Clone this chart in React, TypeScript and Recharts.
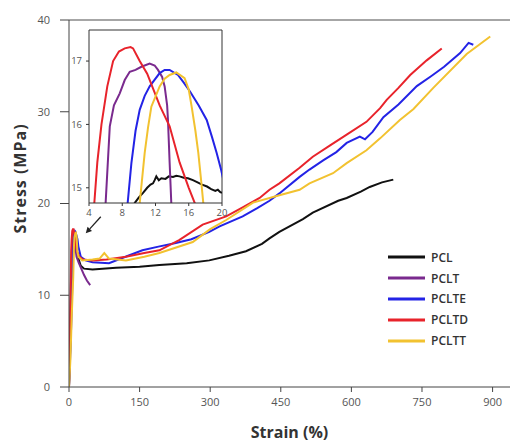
import React from 'react';
import { LineChart, Line, XAxis, YAxis, Legend, ReferenceLine } from 'recharts';

type P = { x: number; y: number };
const toPts = (a: number[][]): P[] => a.map(([x, y]) => ({ x, y }));

// ---- main chart data (strain %, stress MPa)
const pclRaw = [[0,0],[3,5],[6,12],[9,14.6],[12,15.3],[16,15.0],[20,14.0],[25,13.2],[32,12.9],[50,12.8],[100,13.0],[150,13.1],[192,13.3],[250,13.5],[298,13.8],[340,14.3],[376,14.8],[410,15.6],[426,16.2],[447,16.9],[497,18.3],[518,19.0],[572,20.3],[590,20.6],[620,21.3],[639,21.8],[665,22.3],[689,22.6]];
const pcltRaw = [[0,0],[2,6],[4,11],[6,14.8],[8,16.5],[11,16.95],[13,16.6],[14,15],[16,14.2],[21,13.5],[27,12.8],[32,12.2],[38,11.6],[45,11.1]];
const pclteRaw = [[0,0],[3,4],[6,9],[8,13.5],[9.1,15.4],[11.3,16.6],[13.7,16.86],[16,16.5],[18,16.1],[20,15.3],[25,14.2],[35,13.8],[50,13.6],[85,13.5],[120,14.2],[156,14.9],[190,15.3],[227,15.7],[260,16.1],[298,16.9],[320,17.5],[369,18.6],[400,19.5],[426,20.3],[447,21.1],[490,22.9],[511,23.7],[540,24.7],[568,25.6],[590,26.6],[618,27.3],[629,27.0],[645,27.8],[668,29.4],[700,30.8],[739,32.8],[770,33.9],[797,34.9],[831,36.4],[849,37.5],[859,37.3]];
const pcltdRaw = [[0,0],[1,3],[3,9],[4.6,14.76],[5.5,16],[6.9,17],[8.3,17.2],[9.3,17.2],[10.1,17.0],[12.5,16.3],[13.7,15.97],[14.9,15.4],[17.2,14.76],[22,14.2],[30,13.9],[50,13.8],[80,13.9],[121,14.2],[160,14.6],[192,14.9],[234,16.0],[284,17.7],[334,18.6],[370,19.6],[405,20.6],[426,21.5],[447,22.2],[490,23.9],[518,25.1],[554,26.3],[590,27.5],[632,28.9],[661,30.4],[675,31.3],[700,32.6],[725,34.0],[760,35.6],[792,36.9]];
const pclttRaw = [[0,0],[3,3],[6,8],[9,12],[10.7,15.55],[11.5,16.28],[13.7,16.78],[14.5,16.82],[16.35,16.28],[17.75,14.76],[20,14.2],[28,13.8],[50,13.9],[65,14.0],[75,14.6],[85,14.0],[121,13.8],[160,14.2],[192,14.6],[263,15.8],[300,17.2],[334,18.2],[391,20.1],[447,20.9],[490,21.5],[511,22.2],[561,23.3],[590,24.4],[632,25.8],[661,27.1],[703,29.1],[732,30.3],[774,32.6],[845,36.3],[895,38.2]];

const PCL = toPts(pclRaw);
const PCLT = toPts(pcltRaw);
const PCLTE = toPts(pclteRaw);
const PCLTD = toPts(pcltdRaw);
const PCLTT = toPts(pclttRaw);

// ---- inset data
const inRed = toPts([[4.0,13.5],[4.64,14.76],[5.0,15.4],[5.5,16.0],[6.2,16.6],[6.9,17.0],[7.6,17.15],[8.3,17.2],[9.0,17.22],[9.3,17.2],[10.1,17.0],[11.0,16.8],[12.5,16.3],[13.7,15.97],[14.9,15.4],[16.0,15.0],[17.2,14.6]]);
const inPurple = toPts([[5.8,14.4],[6.0,14.76],[6.5,15.97],[7.0,16.3],[7.7,16.49],[8.3,16.7],[8.9,16.83],[9.6,16.86],[10.3,16.91],[11.3,16.96],[11.9,16.93],[12.3,16.86],[12.8,16.75],[13.1,16.6],[13.4,16.3],[13.5,16.07],[13.7,15.4],[13.9,14.76],[14.0,14.4]]);
const inBlue = toPts([[8.5,14.5],[8.65,14.76],[9.1,15.39],[9.6,15.9],[10.1,16.23],[10.7,16.45],[11.3,16.6],[12.5,16.81],[13.1,16.86],[13.7,16.86],[14.7,16.78],[15.4,16.66],[16.15,16.52],[17.2,16.3],[18.16,16.07],[18.8,15.8],[19.36,15.55],[19.9,15.28],[20.2,15.1]]);
const inYellow = toPts([[9.9,14.4],[10.1,14.76],[10.7,15.55],[11.1,15.95],[11.5,16.28],[12.5,16.6],[13.1,16.72],[13.7,16.78],[14.5,16.82],[15.5,16.73],[16.0,16.55],[16.35,16.28],[16.8,15.9],[17.15,15.55],[17.5,15.1],[17.75,14.76],[17.9,14.5]]);
const inBlack = toPts([[9.2,14.6],[9.5,14.76],[10.0,14.85],[10.5,14.92],[11.0,15.0],[11.4,15.05],[11.7,15.07],[11.9,15.12],[12.1,15.18],[12.4,15.12],[12.7,15.15],[13.2,15.14],[13.6,15.18],[14.1,15.17],[14.5,15.19],[14.9,15.18],[15.4,15.16],[15.9,15.15],[16.5,15.12],[17.0,15.09],[17.6,15.05],[18.2,15.02],[18.7,14.98],[19.2,14.95],[19.5,14.97],[19.8,14.93],[20.0,14.92]]);

const xTicks = [0, 150, 300, 450, 600, 750, 900];
const xMinor = [75, 225, 375, 525, 675, 825];
const yTicks = [0, 10, 20, 30, 40];
const yMinor = [5, 15, 25, 35];
const inXTicks = [4, 8, 12, 16, 20];
const inYTicks = [15, 16, 17];
const seriesNames = ['PCL', 'PCLT', 'PCLTE', 'PCLTD', 'PCLTT'];

const arrowSeg = [{ x: 67.5, y: 18.56 }, { x: 35.6, y: 16.75 }];

const C: Record<string, string> = { PCL: '#111111', PCLT: '#7a2a8e', PCLTE: '#2323e6', PCLTD: '#e8232b', PCLTT: '#f2c230' };
const FONT = '"Open Sans", sans-serif';
const tickStyle = { fontSize: 11, fill: '#555', fontFamily: FONT };

const Arrow = (props: any) => {
  const { x1, y1, x2, y2 } = props;
  const ang = Math.atan2(y2 - y1, x2 - x1);
  const L = 6, W = 3;
  const bx = x2 - L * Math.cos(ang), by = y2 - L * Math.sin(ang);
  const px = -Math.sin(ang) * W, py = Math.cos(ang) * W;
  return (
    <g>
      <line x1={x1} y1={y1} x2={bx} y2={by} stroke="#222" strokeWidth={1.3} />
      <polygon points={`${x2},${y2} ${bx + px},${by + py} ${bx - px},${by - py}`} fill="#222" />
    </g>
  );
};

const LegendContent = () => (
  <div style={{ fontFamily: FONT }}>
    {seriesNames.map((name) => (
      <div key={name} style={{ display: 'flex', alignItems: 'center', height: 20.8 }}>
        <svg width={38} height={6}><line x1={0} y1={3} x2={37} y2={3} stroke={C[name]} strokeWidth={3} /></svg>
        <span style={{ marginLeft: 5, fontSize: 12, fontWeight: 600, color: '#333' }}>{name}</span>
      </div>
    ))}
  </div>
);

export default function App() {
  return (
    <div style={{ position: 'absolute', left: 0, top: 0, width: 510, height: 443, background: '#fff' }}>
      <LineChart width={510} height={443} margin={{ top: 20, right: 0, left: 0, bottom: 0 }}>
        <XAxis xAxisId="minor" type="number" dataKey="x" domain={[0, 937]} ticks={xMinor} tick={false} tickSize={3} height={0} axisLine={false} stroke="#444" allowDataOverflow />
        <XAxis xAxisId="main" type="number" dataKey="x" domain={[0, 937]} ticks={xTicks} tickSize={5} tickMargin={6} height={56} stroke="#444" tick={tickStyle} allowDataOverflow
          label={{ value: 'Strain (%)', position: 'insideBottom', offset: 5, style: { fontSize: 16, fontWeight: 700, fill: '#333', fontFamily: FONT } }} />
        <YAxis yAxisId="minor" type="number" domain={[0, 40]} ticks={yMinor} tick={false} tickSize={3} width={0} axisLine={false} stroke="#444" />
        <YAxis yAxisId="main" type="number" domain={[0, 40]} ticks={yTicks} tickSize={9} tickMargin={10} width={69} stroke="#444" tick={tickStyle}
          label={{ value: 'Stress (MPa)', angle: -90, position: 'center', dx: -14, dy: -25, style: { fontSize: 16, fontWeight: 700, fill: '#333', fontFamily: FONT, letterSpacing: 1 } }} />
        <ReferenceLine xAxisId="main" yAxisId="main" y={40} stroke="#888" strokeWidth={1.5} />
        <ReferenceLine xAxisId="main" yAxisId="main" segment={arrowSeg} shape={Arrow} ifOverflow="visible" />
        <Line xAxisId="main" yAxisId="main" data={PCL} dataKey="y" name="PCL" stroke={C.PCL} strokeWidth={2} dot={false} isAnimationActive={false} />
        <Line xAxisId="main" yAxisId="main" data={PCLT} dataKey="y" name="PCLT" stroke={C.PCLT} strokeWidth={2} dot={false} isAnimationActive={false} />
        <Line xAxisId="main" yAxisId="main" data={PCLTE} dataKey="y" name="PCLTE" stroke={C.PCLTE} strokeWidth={2} dot={false} isAnimationActive={false} />
        <Line xAxisId="main" yAxisId="main" data={PCLTD} dataKey="y" name="PCLTD" stroke={C.PCLTD} strokeWidth={2} dot={false} isAnimationActive={false} />
        <Line xAxisId="main" yAxisId="main" data={PCLTT} dataKey="y" name="PCLTT" stroke={C.PCLTT} strokeWidth={2} dot={false} isAnimationActive={false} />
        <Legend layout="vertical" align="center" verticalAlign="middle" content={<LegendContent />}
          wrapperStyle={{ position: 'absolute', left: 388, top: 247, width: 120 }} />
      </LineChart>
      <div style={{ position: 'absolute', left: 60, top: 25 }}>
        <LineChart width={170} height={200} margin={{ top: 5, right: 8, left: 0, bottom: 0 }}>
          <XAxis type="number" dataKey="x" domain={[4, 20]} ticks={inXTicks} tickSize={3} tickMargin={3} height={22} stroke="#333" allowDataOverflow
            tick={{ fontSize: 9.5, fill: '#555', fontFamily: FONT }} />
          <YAxis type="number" domain={[14.76, 17.49]} ticks={inYTicks} tickSize={3} tickMargin={4} width={29} stroke="#333" allowDataOverflow
            tick={{ fontSize: 9.5, fill: '#555', fontFamily: FONT }} />
          <ReferenceLine y={17.49} stroke="#333" ifOverflow="visible" />
          <ReferenceLine x={20} stroke="#333" ifOverflow="visible" />
          <Line data={inBlack} dataKey="y" stroke={C.PCL} strokeWidth={2} dot={false} isAnimationActive={false} />
          <Line data={inPurple} dataKey="y" stroke={C.PCLT} strokeWidth={2} dot={false} isAnimationActive={false} />
          <Line data={inBlue} dataKey="y" stroke={C.PCLTE} strokeWidth={2} dot={false} isAnimationActive={false} />
          <Line data={inRed} dataKey="y" stroke={C.PCLTD} strokeWidth={2} dot={false} isAnimationActive={false} />
          <Line data={inYellow} dataKey="y" stroke={C.PCLTT} strokeWidth={2} dot={false} isAnimationActive={false} />
        </LineChart>
      </div>
    </div>
  );
}
